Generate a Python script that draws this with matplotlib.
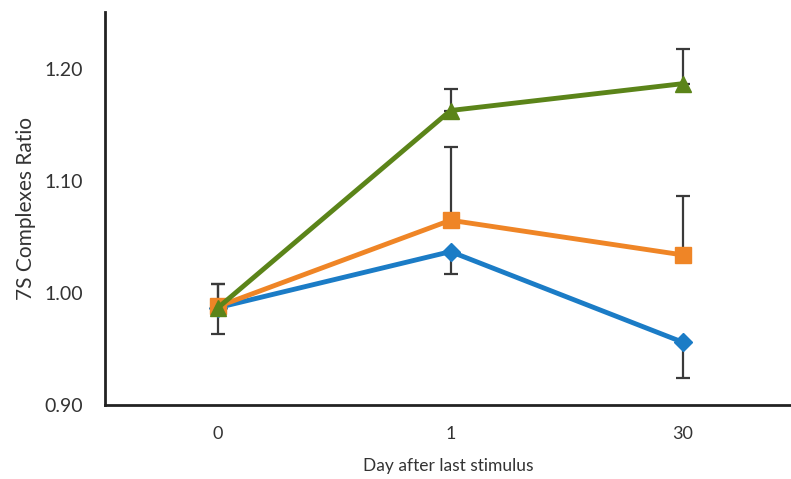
import numpy as np
import matplotlib.pyplot as plt

plt.rcParams['font.family'] = ['Lato', 'DejaVu Sans']

# Data
days = ["0", "1", "30"]
green = [0.987, 1.163, 1.187]
green_err = [0.021, 0.019, 0.031]
orange = [0.988, 1.065, 1.034]
orange_err = [0.020, 0.065, 0.053]
blue = [0.987, 1.037, 0.956]
blue_err = [0.024, 0.020, 0.032]

x = np.arange(len(days))

fig = plt.figure(figsize=(7.91, 4.79), dpi=100)
ax = fig.add_axes([0.133, 0.1545, 0.867, 0.8205])

err_kw = dict(ecolor="#3a3a3a", elinewidth=1.6, capsize=5, capthick=1.6)

# error bars: blue downward, orange and green upward
ax.errorbar(x, blue, yerr=[blue_err, np.zeros(3)], fmt="none", zorder=1, **err_kw)
ax.errorbar(x, orange, yerr=[np.zeros(3), orange_err], fmt="none", zorder=1, **err_kw)
ax.errorbar(x, green, yerr=[np.zeros(3), green_err], fmt="none", zorder=1, **err_kw)

ax.plot(x, blue, color="#1b7cc6", lw=3.5, marker="D", ms=9, zorder=2)
ax.plot(x, orange, color="#ef8526", lw=3.5, marker="s", ms=12, zorder=3)
ax.plot(x, green, color="#5b8419", lw=3.5, marker="^", ms=12, zorder=4)

ax.set_xlim(-0.486, 2.465)
ax.set_ylim(0.90, 1.251)
ax.set_xticks(x)
ax.set_xticklabels(days)
ax.set_yticks([0.90, 1.00, 1.10, 1.20])
ax.set_yticklabels(["0.90", "1.00", "1.10", "1.20"])
ax.tick_params(length=0, colors="#333333")
ax.tick_params(axis="x", labelsize=13, pad=15)
ax.tick_params(axis="y", labelsize=14, pad=16)

for side in ["top", "right"]:
    ax.spines[side].set_visible(False)
for side in ["left", "bottom"]:
    ax.spines[side].set_linewidth(2)
    ax.spines[side].set_color("#222222")

ax.set_xlabel("Day after last stimulus", fontsize=12.5, color="#333333", labelpad=12)
ax.set_ylabel("7S Complexes Ratio", fontsize=15, color="#333333", labelpad=6)

fig.savefig("out.png", dpi=100)
